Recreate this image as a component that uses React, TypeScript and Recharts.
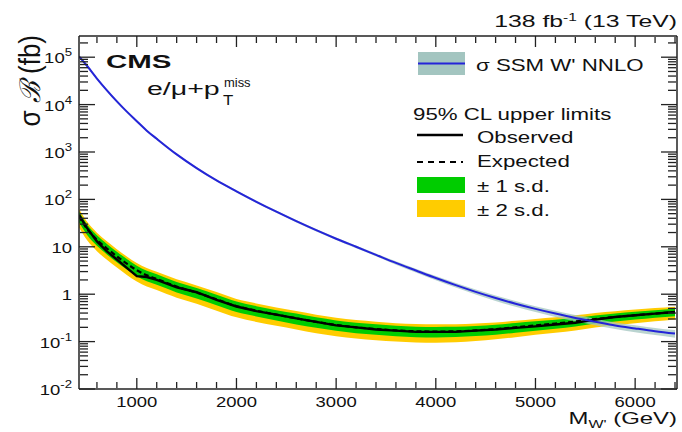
import React from 'react';
import { ComposedChart, Area, Line, XAxis, YAxis } from 'recharts';

// W' mass points (GeV)
const masses = [420, 500, 600, 700, 800, 900, 1000, 1100, 1200, 1400, 1600, 1800, 2000, 2200, 2400, 2600, 2800, 3000, 3200, 3400, 3600, 3800, 4000, 4200, 4400, 4600, 4800, 5000, 5200, 5400, 5600, 5800, 6000, 6200, 6400];

// 95% CL upper limits (fb)
const observed = [47, 25, 13, 8.0, 5.4, 3.6, 2.4, 2.3, 2.0, 1.4, 1.1, 0.76, 0.55, 0.44, 0.37, 0.31, 0.26, 0.22, 0.2, 0.18, 0.17, 0.16, 0.16, 0.16, 0.17, 0.18, 0.195, 0.21, 0.23, 0.25, 0.29, 0.33, 0.36, 0.39, 0.42];
const expected = [44, 24, 14, 9.2, 6.3, 4.4, 3.2, 2.5, 2.1, 1.45, 1.08, 0.78, 0.56, 0.45, 0.37, 0.31, 0.26, 0.225, 0.2, 0.185, 0.172, 0.165, 0.163, 0.165, 0.172, 0.183, 0.2, 0.22, 0.24, 0.265, 0.3, 0.33, 0.36, 0.39, 0.42];
const oneSdLo = [33, 18, 10.5, 6.9, 4.7, 3.3, 2.4, 1.88, 1.58, 1.09, 0.81, 0.585, 0.42, 0.34, 0.28, 0.23, 0.195, 0.17, 0.15, 0.139, 0.129, 0.124, 0.122, 0.125, 0.131, 0.14, 0.154, 0.17, 0.187, 0.209, 0.24, 0.267, 0.292, 0.32, 0.344];
const oneSdHi = [55, 30, 17.5, 11.5, 7.9, 5.5, 4.0, 3.13, 2.63, 1.81, 1.35, 0.975, 0.7, 0.56, 0.46, 0.39, 0.325, 0.28, 0.25, 0.231, 0.215, 0.206, 0.204, 0.205, 0.213, 0.226, 0.246, 0.268, 0.29, 0.318, 0.357, 0.393, 0.425, 0.46, 0.496];
const twoSdLo = [25.5, 13.9, 8.1, 5.3, 3.65, 2.55, 1.86, 1.45, 1.22, 0.84, 0.63, 0.45, 0.325, 0.26, 0.215, 0.18, 0.15, 0.13, 0.116, 0.107, 0.1, 0.096, 0.095, 0.097, 0.103, 0.112, 0.124, 0.139, 0.154, 0.172, 0.198, 0.221, 0.245, 0.269, 0.294];
const twoSdHi = [62.5, 34, 19.9, 13.1, 8.9, 6.25, 4.55, 3.55, 2.98, 2.06, 1.53, 1.11, 0.795, 0.64, 0.525, 0.44, 0.37, 0.32, 0.284, 0.263, 0.244, 0.234, 0.231, 0.233, 0.241, 0.254, 0.276, 0.301, 0.326, 0.358, 0.402, 0.439, 0.475, 0.511, 0.546];

// SSM W' NNLO cross section x BR (fb) and its uncertainty
const theory = [104000, 66000, 35500, 20000, 11700, 7100, 4470, 2820, 1900, 890, 457, 251, 148, 89, 55, 34.7, 22.4, 14.8, 10, 6.76, 4.57, 3.16, 2.19, 1.55, 1.12, 0.83, 0.63, 0.49, 0.39, 0.316, 0.263, 0.219, 0.19, 0.166, 0.148];
const theoryLo = [99000, 62700, 33700, 19000, 11100, 6750, 4250, 2680, 1800, 845, 434, 238, 140, 84, 52, 32.6, 21, 13.9, 9.3, 6.29, 4.2, 2.88, 1.97, 1.38, 0.986, 0.722, 0.542, 0.421, 0.332, 0.269, 0.221, 0.184, 0.158, 0.138, 0.121];
const theoryHi = [109000, 69300, 37300, 21000, 12300, 7450, 4690, 2960, 2000, 935, 480, 264, 156, 94, 58, 36.8, 23.8, 15.7, 10.7, 7.23, 4.94, 3.44, 2.41, 1.72, 1.254, 0.938, 0.718, 0.559, 0.449, 0.363, 0.305, 0.254, 0.222, 0.194, 0.175];

// axis ticks
const xMajors = [1000, 2000, 3000, 4000, 5000, 6000];
const yMajors = [0.01, 0.1, 1, 10, 100, 1000, 10000, 100000];

const xMinors: number[] = [];
for (let v = 600; v <= 6400; v += 200) if (!xMajors.includes(v)) xMinors.push(v);
const yMinors: number[] = [];
yMajors.forEach(d => {
  for (let k = 2; k <= 9; k++) {
    if (d * k <= 280000) yMinors.push(d * k);
  }
});

const X_DOMAIN = [420, 6420];
const Y_DOMAIN = [0.01, 280000];

const data = masses.map((m, i) => ({
  m,
  obs: observed[i],
  exp: expected[i],
  g: [oneSdLo[i], oneSdHi[i]],
  y: [twoSdLo[i], twoSdHi[i]],
  th: theory[i],
  thBand: [theoryLo[i], theoryHi[i]],
}));

const FONT = '"Liberation Sans", Arial, Helvetica, sans-serif';
const AXIS = '#222';
const BLUE = '#2424d8';
const GREEN = '#00cc00';
const YELLOW = '#ffcc00';
const FRAME = { stroke: AXIS, strokeWidth: 1.5 };
const TICK = { stroke: AXIS, strokeWidth: 1.3 };

const Txt = ({ x, y, size, sx = 1.32, anchor = 'start', weight = 'normal', rotate, children }: any) => (
  <g transform={`translate(${x},${y}) scale(${sx},1)${rotate ? ` rotate(${rotate})` : ''}`}>
    <text x={0} y={0} fontSize={size} textAnchor={anchor} fontWeight={weight} fontFamily={FONT} fill="#111">
      {children}
    </text>
  </g>
);

const XLabel = ({ x, y, payload }: any) => (
  <Txt x={x} y={y + 18} size={14} anchor="middle">{payload.value}</Txt>
);

const yLabel = (v: number) => {
  const e = Math.round(Math.log10(v));
  if (e === 0) return '1';
  if (e === 1) return '10';
  return (
    <>
      10<tspan dy={-7} fontSize={10}>{e}</tspan>
    </>
  );
};

const YLabel = ({ x, y, payload }: any) => (
  <Txt x={x - 7} y={y + 6} size={14} anchor="end">{yLabel(payload.value)}</Txt>
);

const noLabel = () => <g />;

export default function App() {
  return (
    <div style={{ position: 'absolute', left: 0, top: 0, width: 682, height: 432, background: '#fff' }}>
      <ComposedChart width={682} height={432} data={data} margin={{ top: 36, right: 5, bottom: 0, left: 0 }}>
        {/* labelled frame axes */}
        <XAxis xAxisId="b" dataKey="m" type="number" domain={X_DOMAIN} allowDataOverflow ticks={xMajors}
          interval={0} tick={XLabel} tickLine={false} tickSize={0} tickMargin={0} height={43} axisLine={FRAME} />
        <YAxis yAxisId="l" type="number" scale="log" domain={Y_DOMAIN} allowDataOverflow ticks={yMajors}
          interval={0} tick={YLabel} tickLine={false} tickSize={0} tickMargin={0} width={79} axisLine={FRAME} />

        {/* inward tick marks on all four sides */}
        <XAxis xAxisId="bM" mirror dataKey="m" type="number" domain={X_DOMAIN} allowDataOverflow ticks={xMajors}
          interval={0} tick={noLabel} tickLine={TICK} tickSize={11} height={1} axisLine={false} />
        <XAxis xAxisId="bm" mirror dataKey="m" type="number" domain={X_DOMAIN} allowDataOverflow ticks={xMinors}
          interval={0} tick={noLabel} tickLine={TICK} tickSize={6} height={1} axisLine={false} />
        <XAxis xAxisId="tM" orientation="top" mirror dataKey="m" type="number" domain={X_DOMAIN} allowDataOverflow ticks={xMajors}
          interval={0} tick={noLabel} tickLine={TICK} tickSize={11} height={1} axisLine={FRAME} />
        <XAxis xAxisId="tm" orientation="top" mirror dataKey="m" type="number" domain={X_DOMAIN} allowDataOverflow ticks={xMinors}
          interval={0} tick={noLabel} tickLine={TICK} tickSize={6} height={1} axisLine={false} />
        <YAxis yAxisId="lM" mirror type="number" scale="log" domain={Y_DOMAIN} allowDataOverflow ticks={yMajors}
          interval={0} tick={noLabel} tickLine={TICK} tickSize={16} width={1} axisLine={false} />
        <YAxis yAxisId="lm" mirror type="number" scale="log" domain={Y_DOMAIN} allowDataOverflow ticks={yMinors}
          interval={0} tick={noLabel} tickLine={TICK} tickSize={8} width={1} axisLine={false} />
        <YAxis yAxisId="rM" orientation="right" mirror type="number" scale="log" domain={Y_DOMAIN} allowDataOverflow ticks={yMajors}
          interval={0} tick={noLabel} tickLine={TICK} tickSize={16} width={1} axisLine={FRAME} />
        <YAxis yAxisId="rm" orientation="right" mirror type="number" scale="log" domain={Y_DOMAIN} allowDataOverflow ticks={yMinors}
          interval={0} tick={noLabel} tickLine={TICK} tickSize={8} width={1} axisLine={false} />

        <Area xAxisId="b" yAxisId="l" dataKey="y" type="monotone" stroke="none" fill={YELLOW} fillOpacity={1} isAnimationActive={false} />
        <Area xAxisId="b" yAxisId="l" dataKey="g" type="monotone" stroke="none" fill={GREEN} fillOpacity={1} isAnimationActive={false} />
        <Area xAxisId="b" yAxisId="l" dataKey="thBand" type="monotone" stroke="none" fill="#a3c5c0" fillOpacity={0.75} isAnimationActive={false} />
        <Line xAxisId="b" yAxisId="l" dataKey="obs" type="linear" stroke="#000" strokeWidth={2.4} dot={false} activeDot={false} isAnimationActive={false} />
        <Line xAxisId="b" yAxisId="l" dataKey="exp" type="monotone" stroke="#000" strokeWidth={2.2} strokeDasharray="5 3" dot={false} activeDot={false} isAnimationActive={false} />
        <Line xAxisId="b" yAxisId="l" dataKey="th" type="monotone" stroke={BLUE} strokeWidth={2} dot={false} activeDot={false} isAnimationActive={false} />
      </ComposedChart>

      <svg width={682} height={432} style={{ position: 'absolute', left: 0, top: 0, pointerEvents: 'none' }}>
        <Txt x={677} y={27} size={16} sx={1.55} anchor="end">
          138 fb<tspan dy={-6} fontSize={10}>-1</tspan><tspan dy={6} fontSize={16}> (13 TeV)</tspan>
        </Txt>
        <Txt x={106} y={68} size={19} sx={1.55} weight="bold">CMS</Txt>
        <Txt x={147} y={95} size={19} sx={1.5}>e/μ+p</Txt>
        <Txt x={224} y={87} size={12} sx={1.08}>miss</Txt>
        <Txt x={223} y={105} size={14} sx={1.2}>T</Txt>
        <Txt x={40} y={35} size={26} sx={1.1} anchor="end" rotate={-90}>
          σ <tspan fontStyle="italic" fontFamily="DejaVu Serif">ℬ</tspan> (fb)
        </Txt>
        <Txt x={677} y={424} size={16.5} sx={1.45} anchor="end">
          M<tspan dy={4} fontSize={11}>W'</tspan><tspan dy={-4} fontSize={16.5}> (GeV)</tspan>
        </Txt>

        <rect x={418} y={52} width={47} height={23} fill="#a3c5c0" />
        <line x1={418} y1={63.5} x2={465} y2={63.5} stroke={BLUE} strokeWidth={2} />
        <Txt x={476} y={71} size={17} sx={1.31}>σ SSM W' NNLO</Txt>
        <Txt x={413} y={120} size={17} sx={1.31}>95% CL upper limits</Txt>
        <line x1={417} y1={135} x2={463} y2={135} stroke="#000" strokeWidth={2.4} />
        <Txt x={477} y={143} size={17} sx={1.31}>Observed</Txt>
        <line x1={417} y1={162} x2={463} y2={162} stroke="#000" strokeWidth={2.2} strokeDasharray="6 5" />
        <Txt x={477} y={167} size={17} sx={1.31}>Expected</Txt>
        <rect x={417} y={177} width={48} height={16} fill={GREEN} />
        <Txt x={477} y={192} size={17} sx={1.31}>± 1 s.d.</Txt>
        <rect x={417} y={200} width={48} height={17} fill={YELLOW} />
        <Txt x={477} y={216} size={17} sx={1.31}>± 2 s.d.</Txt>
      </svg>
    </div>
  );
}
